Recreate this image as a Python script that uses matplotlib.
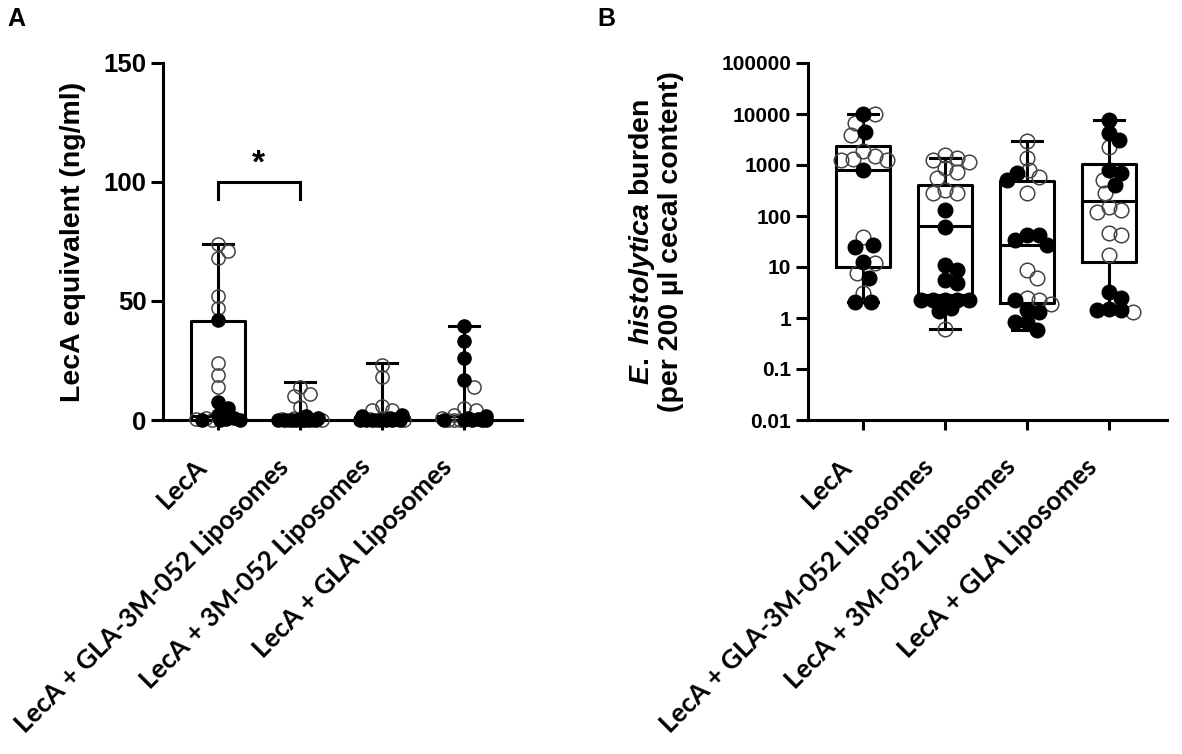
import numpy as np
import matplotlib
matplotlib.use("Agg")
import matplotlib.pyplot as plt
import matplotlib.transforms as mtransforms

plt.rcParams["font.family"] = ["Liberation Sans", "DejaVu Sans"]
plt.rcParams["mathtext.fontset"] = "custom"
plt.rcParams["mathtext.it"] = "Liberation Sans:bold:italic"
plt.rcParams["mathtext.rm"] = "Liberation Sans:bold"

groups = ["LecA", "LecA + GLA-3M-052 Liposomes",
          "LecA + 3M-052 Liposomes", "LecA + GLA Liposomes"]

# ---- panel A: LecA equivalent (ng/ml)
a_open = [
    [74, 71, 68, 52, 47, 24, 19, 14, 1, 0.5, 0],
    [14, 11, 10, 5.5, 1, 0.5, 0, 0, 0],
    [23, 18, 6, 4, 4, 1, 0.5, 0, 0],
    [14, 5, 4, 2, 1, 0, 0, 0],
]
a_filled = [
    [42, 7.5, 5, 2, 1, 0.5, 0, 0, 0],
    [1.5, 1, 0.5, 0, 0, 0, 0, 0, 0, 0, 0],
    [2, 1.5, 1, 0.5, 0, 0, 0, 0, 0, 0, 0],
    [39.5, 33, 26, 17, 1.5, 1, 0.5, 0, 0, 0, 0, 0],
]
a_min = [0, 0, 0, 0]
a_q1 = [0, 0, 0, 0]
a_med = [1.5, 0, 0, 0]
a_q3 = [41.6, 0, 1.2, 1.5]
a_max = [74, 16, 24, 39.5]

# ---- panel B: E. histolytica burden
b_open = [
    [9800, 6600, 3900, 1900, 1500, 1300, 1250, 1250, 39, 12, 7.6, 3.1],
    [1580, 1400, 1250, 1150, 870, 720, 560, 320, 280, 280, 0.6],
    [3000, 1370, 800, 580, 280, 8.7, 6, 2.5, 2.25, 1.9],
    [2250, 500, 280, 150, 130, 120, 47, 42, 17, 1.3],
]
b_filled = [
    [10000, 4450, 800, 27, 25, 12.5, 6, 2.05, 2.05],
    [130, 60, 11, 8.7, 5.6, 4.9, 2.25, 2.25, 2.25, 2.25, 2.25, 1.6, 1.4],
    [700, 510, 42, 42, 34, 27, 2.25, 1.43, 1.3, 0.83, 0.83, 0.58],
    [7500, 4250, 3100, 800, 700, 400, 3.2, 2.5, 1.5, 1.43, 1.43],
]
b_min = [2.05, 0.6, 0.58, 1.3]
b_q1 = [10, 2.8, 2.0, 12.6]
b_med = [800, 63, 27, 195]
b_q3 = [2350, 400, 490, 1050]
b_max = [10000, 1400, 3000, 7500]

PX_PER_X = 82.0
LW = 2.2


def swarm(vals, ypx, d=10.0, step=2.0, maxoff=24.0):
    placed = []
    offs = []
    cands = [0.0]
    k = 1
    while k * step <= maxoff:
        cands += [k * step, -k * step]
        k += 1
    for v in vals:
        y = ypx(v)
        best, best_md = 0.0, -1.0
        for c in cands:
            md = min([np.hypot(c - px, y - py) for px, py in placed] or [1e9])
            if md >= d:
                best = c
                break
            if md > best_md:
                best_md, best = md, c
        placed.append((best, y))
        offs.append(best / PX_PER_X)
    return offs


def draw_panel(ax, opens, filleds, mins, q1s, meds, q3s, maxs, ypx, maxoff,
               ms, dist, ytick_size):
    stats = []
    for i in range(len(groups)):
        stats.append(dict(whislo=mins[i], q1=q1s[i], med=meds[i],
                          q3=q3s[i], whishi=maxs[i], fliers=[]))
    ax.bxp(stats, positions=range(len(groups)), widths=0.66, capwidths=0.37,
           showfliers=False, patch_artist=False,
           boxprops=dict(color="black", lw=LW),
           whiskerprops=dict(color="black", lw=LW),
           capprops=dict(color="black", lw=LW),
           medianprops=dict(color="black", lw=LW), zorder=2)
    for i in range(len(groups)):
        vals = [(v, 0) for v in opens[i]] + [(v, 1) for v in filleds[i]]
        vals.sort(key=lambda t: -t[0])
        offs = swarm([v for v, _ in vals], ypx, d=dist, maxoff=maxoff)
        for (v, f), o in zip(vals, offs):
            if f:
                ax.plot(i + o, v, "o", ms=ms, mfc="black", mec="black",
                        mew=1.0, zorder=4, clip_on=False)
            else:
                ax.plot(i + o, v, "o", ms=ms, mfc="none", mec="#444444",
                        mew=1.1, zorder=3, clip_on=False)
    ax.set_xlim(-0.67, 3.71)
    for s in ["top", "right"]:
        ax.spines[s].set_visible(False)
    for s in ["left", "bottom"]:
        ax.spines[s].set_linewidth(LW)
    ax.tick_params(axis="y", length=9, width=LW, labelsize=ytick_size, pad=3)
    ax.tick_params(axis="x", length=7, width=LW, pad=4)
    ax.set_xticks(range(len(groups)))
    ax.set_xticklabels(groups, rotation=45, ha="right",
                       rotation_mode="anchor", fontsize=19,
                       family=["Lato", "DejaVu Sans"], fontweight="bold")
    shift = mtransforms.ScaledTranslation(-0.24, -0.19, fig.dpi_scale_trans)
    for lbl in ax.get_xticklabels():
        lbl.set_transform(lbl.get_transform() + shift)
    for lbl in ax.get_yticklabels():
        lbl.set_fontweight("bold")


fig = plt.figure(figsize=(11.82, 7.54), dpi=100)
axA = fig.add_axes([163 / 1182, 1 - 420 / 754, 359 / 1182, 357 / 754])
axB = fig.add_axes([808 / 1182, 1 - 420 / 754, 359 / 1182, 357 / 754])

axA.set_ylim(0, 150)
axA.set_yticks([0, 50, 100, 150])
draw_panel(axA, a_open, a_filled, a_min, a_q1, a_med, a_q3, a_max,
           lambda v: v * 2.38, 22.0, 9.5, 11.0, 18.5)
axA.set_ylabel("LecA equivalent (ng/ml)", fontsize=20.5, fontweight="bold")
axA.yaxis.set_label_coords((86 - 163) / 359, 0.5)
# significance bracket LecA vs LecA + GLA-3M-052
axA.plot([0, 0, 1, 1], [93, 100, 100, 93], color="black", lw=LW,
         solid_joinstyle="miter")
axA.text(0.5, 101, "*", ha="center", va="bottom", fontsize=24,
         fontweight="bold")

axB.set_yscale("log")
axB.set_ylim(0.01, 100000)
ticks = [0.01, 0.1, 1, 10, 100, 1000, 10000, 100000]
axB.set_yticks(ticks)
axB.set_yticklabels(["0.01", "0.1", "1", "10", "100", "1000", "10000",
                     "100000"])
axB.yaxis.set_minor_locator(matplotlib.ticker.NullLocator())
draw_panel(axB, b_open, b_filled, b_min, b_q1, b_med, b_q3, b_max,
           lambda v: np.log10(v) * 51.0, 27.0, 10.5, 12.0, 15)
axB.set_ylabel("$\\mathit{E.\\ histolytica}$ burden\n"
               "(per 200 \u00b5l cecal content)", fontsize=20.5,
               fontweight="bold", linespacing=1.05)
axB.yaxis.set_label_coords((684 - 808) / 359, 0.5)

fig.text(7 / 1182, 1 - 19 / 754, "A", fontsize=18, fontweight="bold",
         va="center")
fig.text(597 / 1182, 1 - 19 / 754, "B", fontsize=18, fontweight="bold",
         va="center")

fig.savefig("out.png", dpi=100)
